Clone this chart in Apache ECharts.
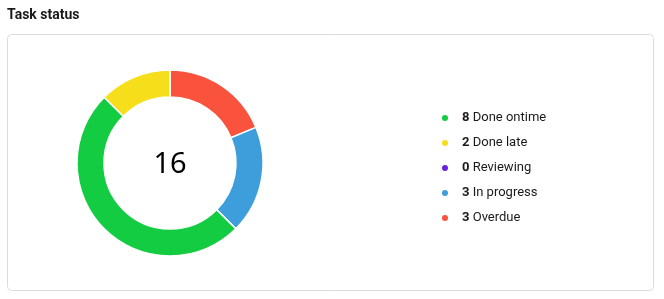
<!DOCTYPE html>
<html>
<head>
<meta charset="utf-8">
<script src="https://cdn.jsdelivr.net/npm/echarts@6/dist/echarts.min.js"></script>
<style>
html,body{margin:0;padding:0;background:#fff;}
#c{width:664px;height:299px;}
</style>
</head>
<body>
<div id="c"></div>
<script>
const chartTitle = 'Task status';
const legendOrder = ['Done ontime', 'Done late', 'Reviewing', 'In progress', 'Overdue'];
const legendValues = [8, 2, 0, 3, 3];
const legendColors = ['#14cc41', '#f7de1b', '#6e1fdb', '#3d9edb', '#f9533d'];
// slice drawing order (clockwise from 12 o'clock)
const sliceOrder = ['Overdue', 'In progress', 'Reviewing', 'Done ontime', 'Done late'];

const valueOf = {};
const colorOf = {};
legendOrder.forEach((n, i) => { valueOf[n] = legendValues[i]; colorOf[n] = legendColors[i]; });
const total = legendValues.reduce((a, b) => a + b, 0);

const chart = echarts.init(document.getElementById('c'), null, {renderer: 'canvas'});
chart.setOption({
  animation: false,
  title: {
    text: chartTitle,
    left: 2,
    top: 3,
    textStyle: {fontFamily: 'Roboto', fontSize: 14, fontWeight: 'bold', color: '#1a1a1a'}
  },
  graphic: [
    {
      type: 'rect',
      shape: {x: 7.5, y: 34.5, width: 646, height: 256, r: 4},
      style: {fill: 'none', stroke: '#dcdcdc', lineWidth: 1},
      z: -1
    },
    {
      type: 'text',
      x: 170, y: 165,
      style: {
        text: String(total),
        fontFamily: 'Noto Sans',
        fontSize: 29,
        fill: '#000',
        textAlign: 'center',
        textVerticalAlign: 'middle'
      }
    }
  ],
  legend: {
    orient: 'vertical',
    left: 440,
    top: 111,
    padding: 0,
    icon: 'circle',
    itemWidth: 8,
    itemHeight: 8,
    itemGap: 11,
    data: legendOrder,
    selectedMode: false,
    formatter: function (name) {
      return '{b|' + valueOf[name] + '} {n|' + name + '}';
    },
    textStyle: {
      padding: [0, 0, 0, 8],
      fontFamily: 'Roboto',
      fontSize: 13,
      lineHeight: 14,
      color: '#1a1a1a',
      rich: {
        b: {fontFamily: 'Roboto', fontSize: 13, fontWeight: 'bold', color: '#1a1a1a'},
        n: {fontFamily: 'Roboto', fontSize: 13, color: '#1a1a1a'}
      }
    }
  },
  series: [{
    type: 'pie',
    center: [170, 163],
    radius: [66, 93],
    startAngle: 90,
    clockwise: true,
    label: {show: false},
    labelLine: {show: false},
    emphasis: {disabled: true},
    itemStyle: {borderColor: '#fff', borderWidth: 1.5},
    data: sliceOrder.map(n => ({name: n, value: valueOf[n], itemStyle: {color: colorOf[n]}}))
  }]
});
</script>
</body>
</html>
